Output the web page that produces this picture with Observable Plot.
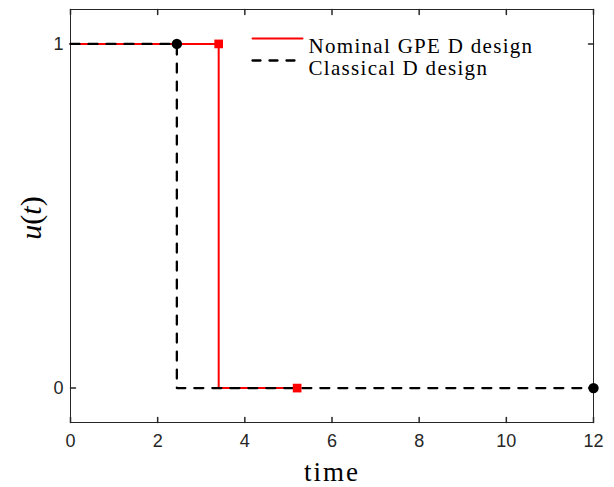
<!DOCTYPE html>
<html>
<head>
<meta charset="utf-8">
<script src="https://cdn.jsdelivr.net/npm/d3@7"></script>
<script src="https://cdn.jsdelivr.net/npm/@observablehq/plot@0.6"></script>
<style>
  html, body { margin: 0; padding: 0; background: #fff; }
  #chart svg { display: block; }
</style>
</head>
<body>
<div id="chart"></div>
<script>
// Nominal GPE D design (red, solid) : step values
const gpeTime = [0, 3.4, 3.4, 5.2];
const gpeU = [1, 1, 0, 0];
const gpeMarkTime = [3.4, 5.2];
const gpeMarkU = [1, 0];

// Classical D design (black, dashed)
const clsTime = [0, 2.44, 2.44, 12];
const clsU = [1, 1, 0, 0];
const clsMarkTime = [2.44, 12];
const clsMarkU = [1, 0];

const xTicks = [0, 2, 4, 6, 8, 10, 12];
const yTicks = [0, 1];
const legendLabels = ["Nominal GPE D design", "Classical D design"];
const xLabel = "time";
const yLabel = "u(t)";

const gpe = gpeTime.map((t, i) => ({t, u: gpeU[i]}));
const cls = clsTime.map((t, i) => ({t, u: clsU[i]}));
const gpeM = gpeMarkTime.map((t, i) => ({t, u: gpeMarkU[i]}));
const clsM = clsMarkTime.map((t, i) => ({t, u: clsMarkU[i]}));

const tickShape = {draw(ctx, l) { ctx.moveTo(0, 0); ctx.lineTo(0, -l); }};
const hLine = {draw(ctx, l) { ctx.moveTo(0, 0); ctx.lineTo(l, 0); }};

const serif = "'Liberation Serif', 'Times New Roman', serif";
const sans = "'Liberation Sans', Arial, Helvetica, sans-serif";

const chart = Plot.plot({
  width: 614,
  height: 487,
  marginLeft: 70,
  marginRight: 21,
  marginTop: 9,
  marginBottom: 65,
  style: {fontFamily: sans, fontSize: "16px", color: "#262626", background: "#fff"},
  x: {domain: [0, 12], axis: null},
  y: {domain: [-0.1, 1.1], axis: null},
  marks: [
    Plot.frame({stroke: "#262626", strokeWidth: 1}),
    // inward ticks: bottom, top, left, right
    Plot.vector(xTicks, {x: d => d, frameAnchor: "bottom", anchor: "start", length: 5, rotate: 0, shape: tickShape, stroke: "#262626"}),
    Plot.vector(xTicks, {x: d => d, frameAnchor: "top", anchor: "start", length: 5, rotate: 180, shape: tickShape, stroke: "#262626"}),
    Plot.vector(yTicks, {y: d => d, frameAnchor: "left", anchor: "start", length: 5, rotate: 90, shape: tickShape, stroke: "#262626"}),
    Plot.vector(yTicks, {y: d => d, frameAnchor: "right", anchor: "start", length: 5, rotate: -90, shape: tickShape, stroke: "#262626"}),
    // tick labels
    Plot.text(xTicks, {x: d => d, text: d => String(d), frameAnchor: "bottom", lineAnchor: "top", dy: 12, fontFamily: sans, fontSize: 18, fill: "#262626"}),
    Plot.text(yTicks, {y: d => d, text: d => String(d), frameAnchor: "left", textAnchor: "end", dx: -7, fontFamily: sans, fontSize: 18, fill: "#262626"}),
    // series
    Plot.line(gpe, {x: "t", y: "u", stroke: "#ff0000", strokeWidth: 2}),
    Plot.line(cls, {x: "t", y: "u", stroke: "#000", strokeWidth: 2.3, strokeDasharray: "9,9"}),
    Plot.dot(gpeM, {x: "t", y: "u", symbol: "square", r: 4.9, fill: "#ff0000", stroke: "none"}),
    Plot.dot(clsM, {x: "t", y: "u", symbol: "circle", r: 5.2, fill: "#000", stroke: "none"}),
    // axis labels
    Plot.text([xLabel], {text: d => d, frameAnchor: "bottom", textAnchor: "middle", dy: 58, fontFamily: serif, fontSize: 27, fill: "#000"}),
    Plot.text([yLabel], {text: d => d, frameAnchor: "left", textAnchor: "middle", dx: -39, dy: 2, rotate: -90, fontFamily: serif, fontSize: 30, fill: "#000"}),
    // legend
    Plot.vector([legendLabels[0]], {frameAnchor: "top-left", dx: 182, dy: 29, anchor: "start", length: 50, rotate: 0, shape: hLine, stroke: "#ff0000", strokeWidth: 2}),
    Plot.vector([legendLabels[1]], {frameAnchor: "top-left", dx: 182, dy: 51, anchor: "start", length: 50, rotate: 0, shape: hLine, stroke: "#000", strokeWidth: 2.3, strokeDasharray: "8,9"}),
    Plot.text([legendLabels[0]], {text: d => d, frameAnchor: "top-left", dx: 238, dy: 29, textAnchor: "start", fontFamily: serif, fontSize: 21, fill: "#000"}),
    Plot.text([legendLabels[1]], {text: d => d, frameAnchor: "top-left", dx: 238, dy: 51, textAnchor: "start", fontFamily: serif, fontSize: 21, fill: "#000"})
  ]
});
// letter spacing for LaTeX-like wider serif text
d3.select(chart).selectAll("text").filter(function() { return legendLabels.includes(this.textContent); })
  .style("letter-spacing", "1.3px");
d3.select(chart).selectAll("text").filter(function() { return this.textContent === xLabel; })
  .style("letter-spacing", "2px");
// italic variables in u(t), upright parentheses
d3.select(chart).selectAll("text").filter(function() { return this.textContent === yLabel; })
  .each(function() {
    const el = d3.select(this);
    el.text(null);
    const parts = [["u", "italic"], ["(", "normal"], ["t", "italic"], [")", "normal"]];
    parts.forEach(([s, st]) => el.append("tspan").attr("font-style", st).text(s));
  });
document.getElementById("chart").appendChild(chart);
</script>
</body>
</html>
